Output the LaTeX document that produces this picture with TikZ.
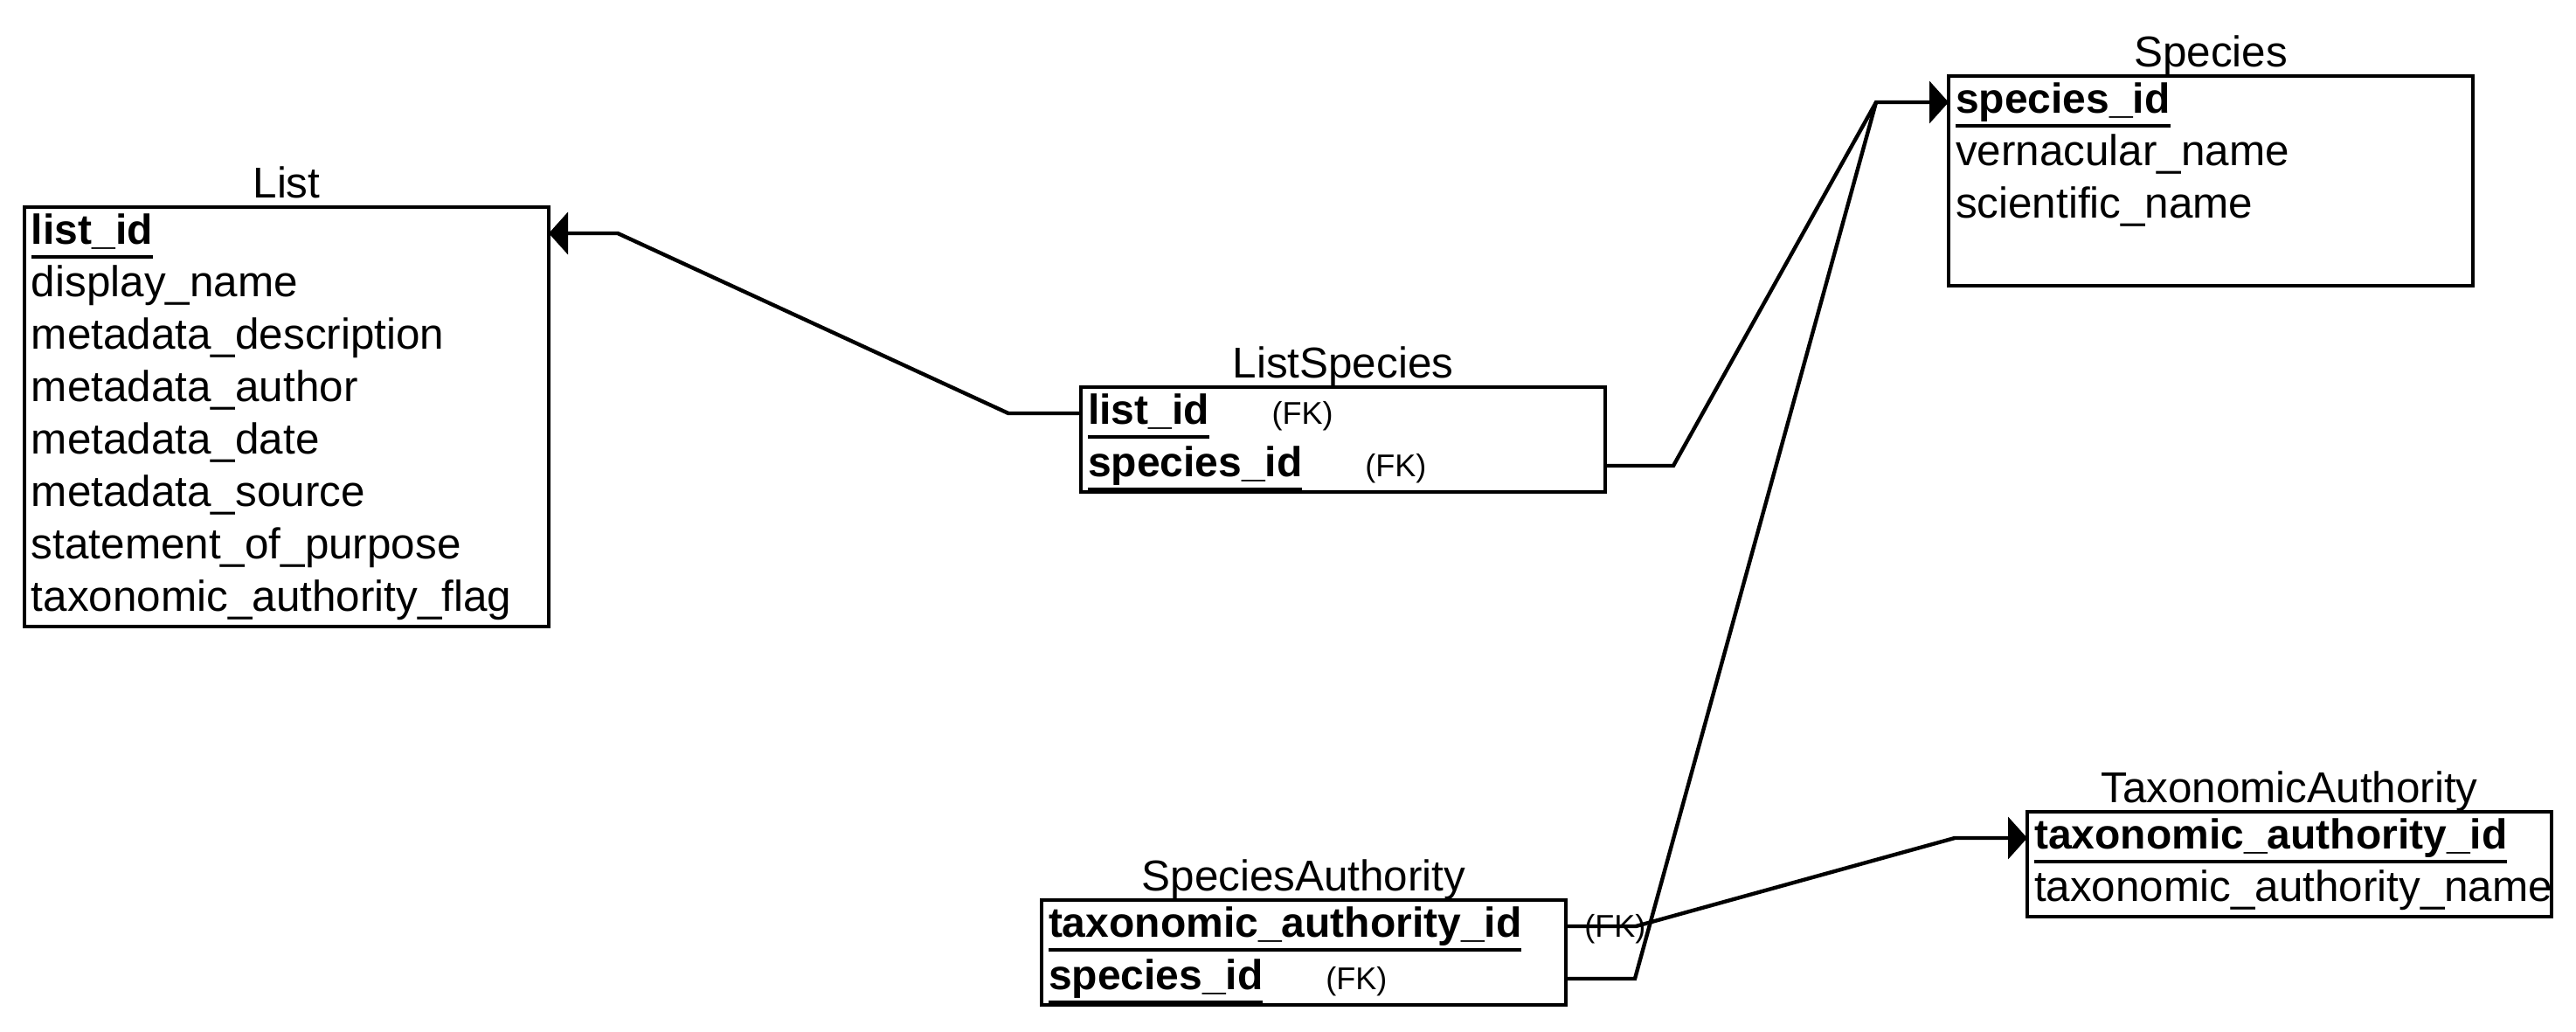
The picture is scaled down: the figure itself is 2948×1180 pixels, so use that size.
\documentclass[tikz,border=0pt]{standalone}
\usepackage{fontspec}
\setmainfont{Liberation Sans}
\usetikzlibrary{calc, arrows.meta}

\newcommand{\keyfield}[1]{\setbox0\hbox{\fontsize{12pt}{15pt}\selectfont\bfseries #1}\rlap{\rule[-4.2pt]{\wd0}{1.1pt}}\box0}
\newcommand{\fklabel}{\hspace{18pt}{\fontsize{9pt}{10pt}\selectfont (FK)}}

\begin{document}
\begin{tikzpicture}[%
    x=0.25pt, y=-0.25pt,
    font=\fontsize{12.35pt}{15pt}\selectfont,
    table/.style = {draw, line width=1.1pt, anchor=north west, inner sep=0pt, outer sep=0pt, minimum width=150pt},
    title/.style = {anchor=base, inner sep=0pt},
    field/.style = {anchor=north west, inner xsep=2pt, inner ysep=0pt, outer sep=0pt,
        minimum height=15pt, text width=146pt, align=left, text height=8.6pt, text depth=2.5pt},
    link/.style = {draw, line width=1.1pt},
    key/.style = {-{Triangle[length=5.5pt, width=12pt]}}
]
\useasboundingbox (0,0) rectangle (2948,1180);

% List
\node[table, minimum height=120pt] (list) at (28,237) {};
\node[title] at ([yshift=2.6pt]list.north) {List};
\foreach \f [count=\i] in {\keyfield{list\_id}, display\_name, metadata\_description,
        metadata\_author, metadata\_date, metadata\_source, statement\_of\_purpose,
        taxonomic\_authority\_flag} {
    \node[field] (list-\i) at ($(list.north west)+(0,{60*(\i-1)})$) {\mbox{\f}};
}

% ListSpecies
\node[table, minimum height=30pt] (listspecies) at (1237,443) {};
\node[title] at ([yshift=2.6pt]listspecies.north) {ListSpecies};
\foreach \f [count=\i] in {\keyfield{list\_id}\fklabel, \keyfield{species\_id}\fklabel} {
    \node[field] (listspecies-\i) at ($(listspecies.north west)+(0,{60*(\i-1)})$) {\mbox{\f}};
}

% Species
\node[table, minimum height=60pt] (species) at (2230,87) {};
\node[title] at ([yshift=2.6pt]species.north) {Species};
\foreach \f [count=\i] in {\keyfield{species\_id}, vernacular\_name, scientific\_name} {
    \node[field] (species-\i) at ($(species.north west)+(0,{60*(\i-1)})$) {\mbox{\f}};
}

% SpeciesAuthority
\node[table, minimum height=30pt] (speciesauth) at (1192,1030) {};
\node[title] at ([yshift=2.6pt]speciesauth.north) {SpeciesAuthority};
\foreach \f [count=\i] in {\keyfield{taxonomic\_authority\_id}\fklabel, \keyfield{species\_id}\fklabel} {
    \node[field] (speciesauth-\i) at ($(speciesauth.north west)+(0,{60*(\i-1)})$) {\mbox{\f}};
}

% TaxonomicAuthority
\node[table, minimum height=30pt] (taxauth) at (2320,929) {};
\node[title] at ([yshift=2.6pt]taxauth.north) {TaxonomicAuthority};
\foreach \f [count=\i] in {\keyfield{taxonomic\_authority\_id}, taxonomic\_authority\_name} {
    \node[field] (taxauth-\i) at ($(taxauth.north west)+(0,{60*(\i-1)})$) {\mbox{\f}};
}

% relations
\draw[link, key] (listspecies-1.west) -- ++(-83,0) -- ($(list-1.east)+(79,0)$) -- (list-1.east);
\draw[link, key] (listspecies-2.east) -- ++(78,0) -- ($(species-1.west)+(-83,0)$) -- (species-1.west);
\draw[link] (speciesauth-2.east) -- ++(79,0) -- ($(species-1.west)+(-83,0)$);
\draw[link, key] (speciesauth-1.east) -- ++(80,0) -- ($(taxauth-1.west)+(-83,0)$) -- (taxauth-1.west);
\end{tikzpicture}
\end{document}
